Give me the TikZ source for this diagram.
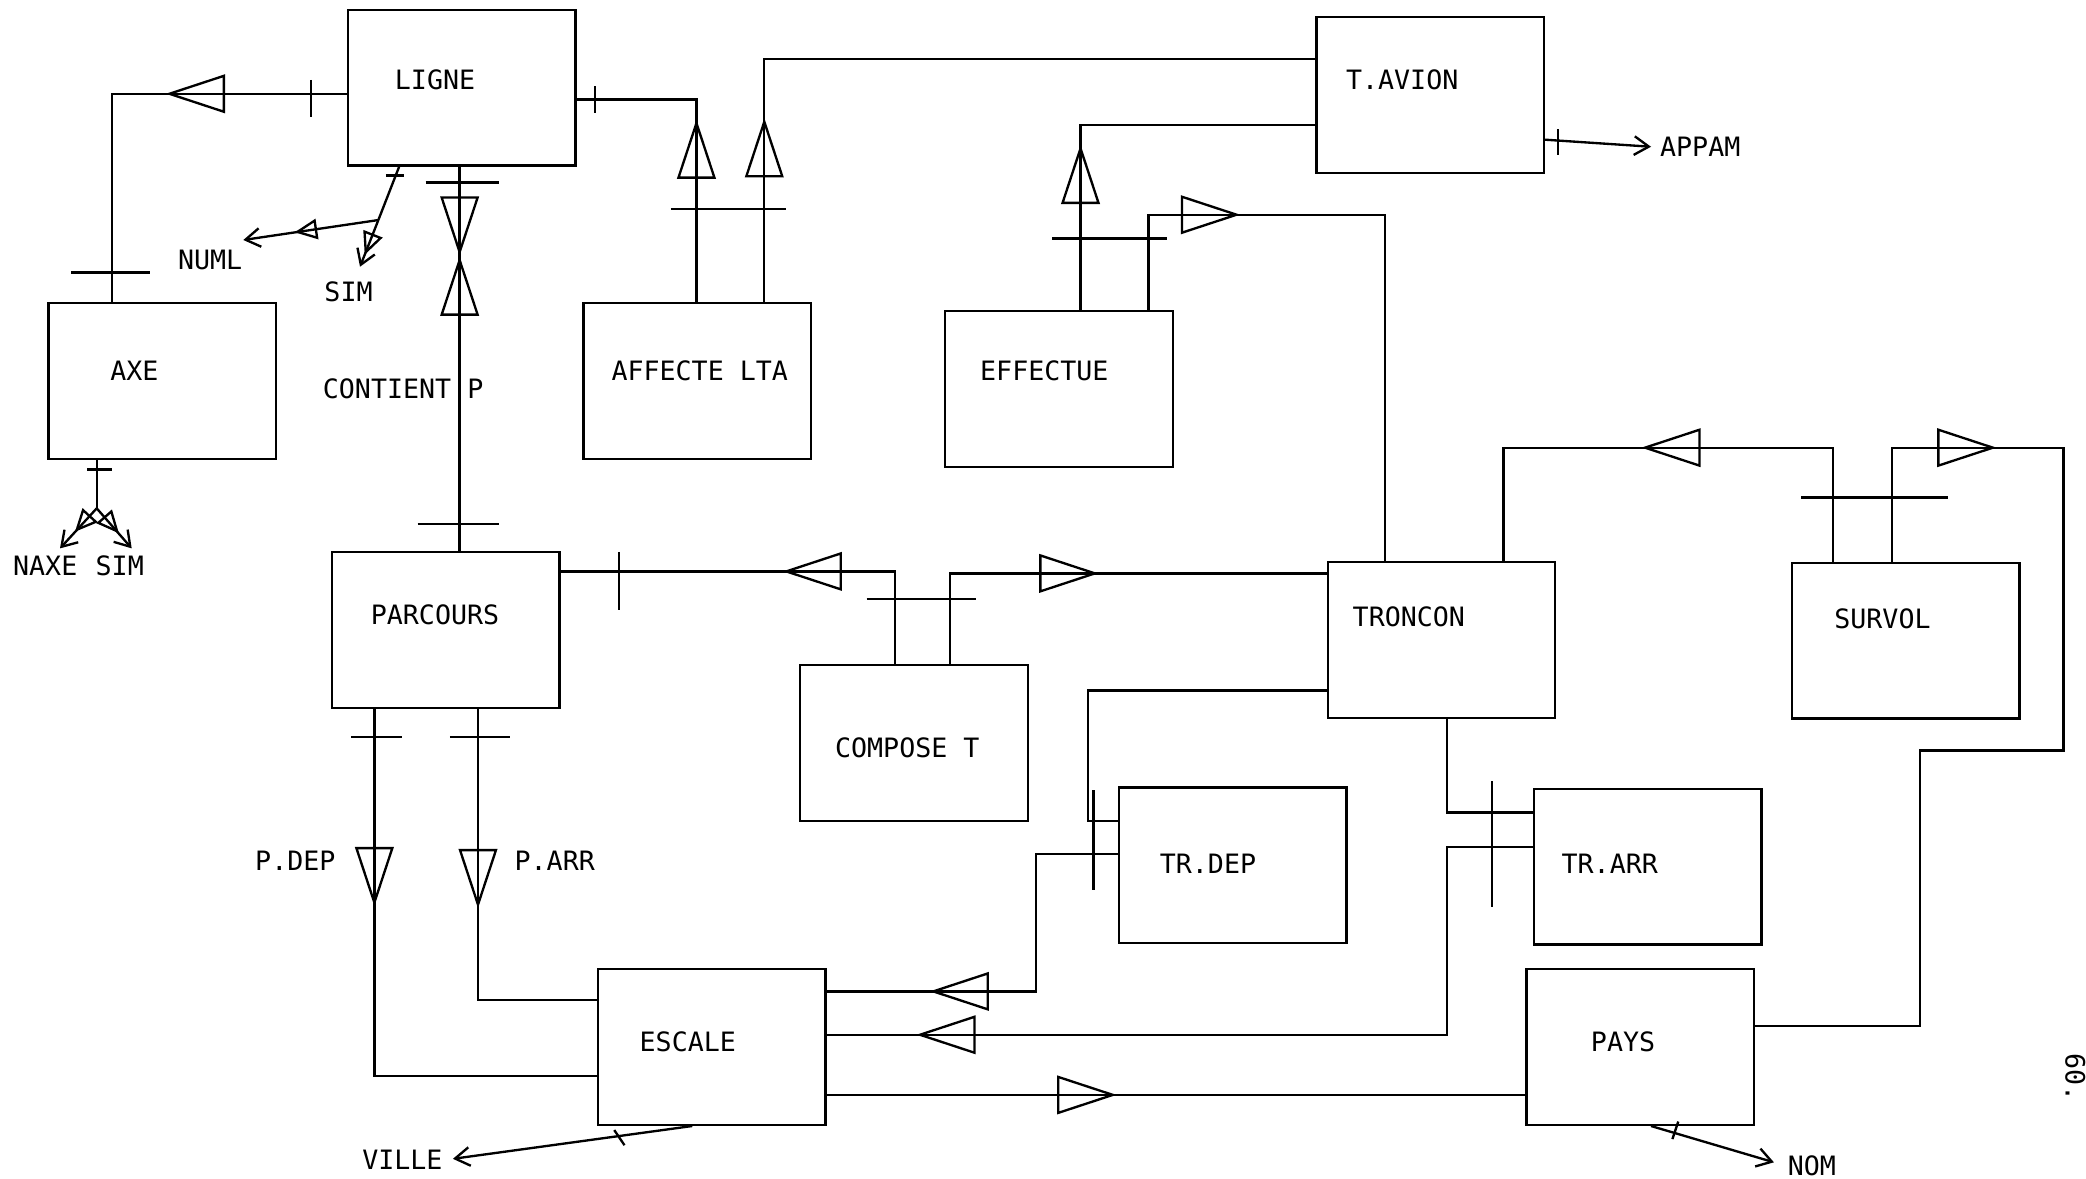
\documentclass[tikz,border=0pt]{standalone}
\usepackage{fontspec}
\newfontfamily\plotfont{DejaVu Sans Mono}
\usetikzlibrary{arrows.meta}
\tikzset{
  dirtri/.pic={\draw (0.205,0) -- (-0.205,0.135) -- (-0.205,-0.135) -- cycle;},
  attri/.pic={\draw (0.07,0) -- (-0.07,0.065) -- (-0.07,-0.065) -- cycle;},
}

\begin{document}
\begin{tikzpicture}[x=1cm, y=-1cm, line width=0.5pt,
    ent/.style={draw, minimum width=1.71cm, minimum height=1.17cm, inner sep=0pt},
    lbl/.style={inner sep=0pt, font=\plotfont\fontsize{5.7}{6}\selectfont},
    bar/.style={line width=0.5pt},
    attr/.style={-{Straight Barb[length=1.1mm,width=1.4mm]}}]
  \useasboundingbox (0,0) rectangle (15.68,8.86);

  % boites
  \node[ent] (ligne) at (3.47,0.66) {};
  \node[ent] (axe) at (1.22,2.865) {};
  \node[ent] (tavion) at (10.75,0.715) {};
  \node[ent] (affecte) at (5.24,2.865) {};
  \node[ent] (effectue) at (7.96,2.925) {};
  \node[ent] (parcours) at (3.35,4.735) {};
  \node[ent] (compose) at (6.87,5.585) {};
  \node[ent] (troncon) at (10.835,4.81) {};
  \node[ent] (survol) at (14.325,4.815) {};
  \node[ent] (trdep) at (9.265,6.505) {};
  \node[ent] (trarr) at (12.385,6.515) {};
  \node[ent] (escale) at (5.35,7.87) {};
  \node[ent] (pays) at (12.33,7.87) {};

  \node[lbl] (ligne-t) at (3.27,0.60) {LIGNE};
  \node[lbl] (axe-t) at (1.01,2.79) {AXE};
  \node[lbl] (tavion-t) at (10.54,0.60) {T.AVION};
  \node[lbl] (affecte-t) at (5.26,2.79) {AFFECTE LTA};
  \node[lbl] (effectue-t) at (7.85,2.79) {EFFECTUE};
  \node[lbl] (contient-t) at (3.03,2.92) {CONTIENT P};
  \node[lbl] (parcours-t) at (3.27,4.62) {PARCOURS};
  \node[lbl] (compose-t) at (6.82,5.62) {COMPOSE T};
  \node[lbl] (troncon-t) at (10.59,4.64) {TRONCON};
  \node[lbl] (survol-t) at (14.15,4.65) {SURVOL};
  \node[lbl] (trdep-t) at (9.08,6.49) {TR.DEP};
  \node[lbl] (trarr-t) at (12.10,6.49) {TR.ARR};
  \node[lbl] (escale-t) at (5.17,7.83) {ESCALE};
  \node[lbl] (pays-t) at (12.20,7.83) {PAYS};
  \node[lbl] (pdep) at (2.22,6.47) {P.DEP};
  \node[lbl] (parr) at (4.17,6.47) {P.ARR};

  % attributs
  \node[lbl] (numl) at (1.58,1.955) {NUML};
  \node[lbl] (sim1) at (2.62,2.19) {SIM};
  \node[lbl] (naxe) at (0.34,4.25) {NAXE};
  \node[lbl] (sim2) at (0.90,4.25) {SIM};
  \node[lbl, anchor=west] (appam) at (12.47,1.107) {APPAM};
  \node[lbl, anchor=east] (ville) at (3.335,8.72) {VILLE};
  \node[lbl, anchor=west] (nom) at (13.43,8.765) {NOM};
  \node[lbl, rotate=-90] (pagenum) at (15.60,8.10) {60.};

  \coordinate (j1) at (2.844,1.654);
  \coordinate (j2) at (0.727,3.821);
  \coordinate (numl-end) at (1.829,1.804);
  \coordinate (sim1-end) at (2.706,2.005);
  \coordinate (naxe-end) at (0.451,4.122);
  \coordinate (sim2-end) at (0.99,4.122);

  \draw (ligne.south -| 3.0,0) -- (j1);
  \draw[attr] (j1) -- (numl-end);
  \draw[attr] (j1) -- (sim1-end);
  \draw (axe.south -| j2) -- (j2);
  \draw[attr] (j2) -- (naxe-end);
  \draw[attr] (j2) -- (sim2-end);
  \draw[attr, shorten >=0.6mm] (tavion.east |- 0,1.05) -- (appam.west);
  \draw[attr, shorten >=0.7mm] (escale.south -| 5.204,0) -- (ville.east);
  \draw[attr, shorten >=1mm] (pays.south -| 12.41,0) -- (nom.west);

  % liens
  \draw (ligne.west |- 0,0.705) -| (axe.north -| 0.84,0);
  \draw (ligne.south -| 3.455,0) -- (parcours.north -| 3.455,0);
  \draw (ligne.east |- 0,0.748) -| (affecte.north -| 5.235,0);
  \draw (affecte.north -| 5.745,0) |- (tavion.west |- 0,0.445);
  \draw (effectue.north -| 8.122,0) |- (tavion.west |- 0,0.94);
  \draw (effectue.north -| 8.632,0) |- (10.41,1.614) -- (troncon.north -| 10.41,0);
  \draw (parcours.east |- 0,4.295) -| (compose.north -| 6.726,0);
  \draw (compose.north -| 7.14,0) |- (troncon.west |- 0,4.31);
  \draw (troncon.north -| 11.302,0) |- (13.78,3.365) -- (survol.north -| 13.78,0);
  \draw (survol.north -| 14.223,0) |- (15.51,3.365) |- (14.43,5.64) |- (pays.east |- 0,7.713);
  \draw (troncon.west |- 0,5.19) -| (8.178,6.173) -- (trdep.west |- 0,6.173);
  \draw (trdep.west |- 0,6.42) -| (7.788,7.452) -- (escale.east |- 0,7.452);
  \draw (troncon.south -| 10.875,0) |- (trarr.west |- 0,6.108);
  \draw (trarr.west |- 0,6.369) -| (10.875,7.778) -- (escale.east |- 0,7.778);
  \draw (escale.east |- 0,8.23) -- (pays.west |- 0,8.23);
  \draw (parcours.south -| 2.814,0) |- (escale.west |- 0,8.087);
  \draw (parcours.south -| 3.593,0) |- (escale.west |- 0,7.518);

  % cardinalites
  \draw[bar] (2.338,0.60) -- (2.338,0.88);
  \draw[bar] (0.537,2.048) -- (1.124,2.048);
  \draw[bar] (2.90,1.32) -- (3.04,1.32);
  \draw[bar] (3.20,1.372) -- (3.75,1.372);
  \draw[bar] (3.14,3.937) -- (3.754,3.937);
  \draw[bar] (0.656,3.528) -- (0.84,3.528);
  \draw[bar] (4.472,0.647) -- (4.472,0.848);
  \draw[bar] (5.043,1.569) -- (5.91,1.569);
  \draw[bar] (7.91,1.793) -- (8.774,1.793);
  \draw[bar] (11.712,0.972) -- (11.712,1.165);
  \draw[bar] (4.655,4.149) -- (4.655,4.588);
  \draw[bar] (6.515,4.50) -- (7.34,4.50);
  \draw[bar] (13.54,3.74) -- (14.645,3.74);
  \draw[bar] (2.642,5.542) -- (3.018,5.542);
  \draw[bar] (3.382,5.542) -- (3.83,5.542);
  \draw[bar] (8.22,5.94) -- (8.22,6.688);
  \draw[bar] (11.213,5.874) -- (11.213,6.818);
  \draw[bar] (4.617,8.494) -- (4.694,8.608);
  \draw[bar] (12.571,8.562) -- (12.615,8.430);

  % sens de lecture
  \pic[rotate=180] at (1.478,0.705) {dirtri};
  \pic[rotate=-90] at (3.455,1.69) {dirtri};
  \pic[rotate=90] at (3.455,2.16) {dirtri};
  \pic[rotate=90] at (5.235,1.13) {dirtri};
  \pic[rotate=90] at (5.745,1.12) {dirtri};
  \pic[rotate=90] at (8.122,1.32) {dirtri};
  \pic at (9.09,1.614) {dirtri};
  \pic[rotate=180] at (6.115,4.295) {dirtri};
  \pic at (8.025,4.31) {dirtri};
  \pic[rotate=180] at (12.57,3.365) {dirtri};
  \pic at (14.775,3.365) {dirtri};
  \pic[rotate=-90] at (2.814,6.58) {dirtri};
  \pic[rotate=-90] at (3.593,6.595) {dirtri};
  \pic[rotate=180] at (7.22,7.452) {dirtri};
  \pic[rotate=180] at (7.12,7.778) {dirtri};
  \pic at (8.16,8.23) {dirtri};

  \pic[rotate=188.4] at (2.305,1.733) {attri};
  \pic[rotate=-111.5] at (2.775,1.83) {attri};
  \pic[rotate=-132.5] at (0.625,3.93) {attri};
  \pic[rotate=-48.9] at (0.834,3.94) {attri};
\end{tikzpicture}
\end{document}
